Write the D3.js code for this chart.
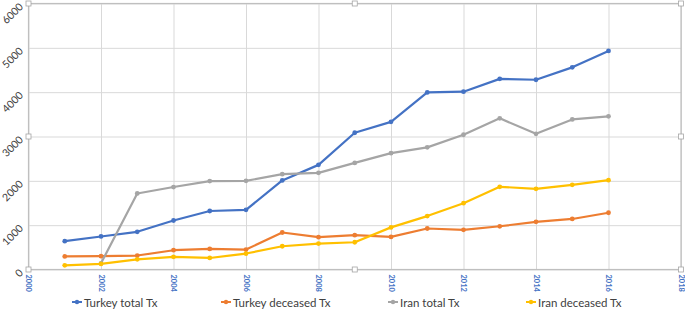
<html>
<head>
    <script src="https://d3js.org/d3.v7.min.js"></script>
    <style>
        body { margin: 0; background: #fff; }
        .grids line { stroke: #d9d9d9; }
        .grids .domain { stroke: none; }
    </style>
</head>
<body>
    <svg id="plot1" width="685" height="312"></svg>
<script>
    // data
    const years = [2001,2002,2003,2004,2005,2006,2007,2008,2009,2010,2011,2012,2013,2014,2015,2016];
    const turkeyTotal    = [640,745,850,1105,1320,1345,2010,2360,3085,3330,3995,4010,4300,4280,4560,4930];
    const turkeyDeceased = [295,300,315,435,465,450,835,730,775,735,925,895,975,1075,1140,1280];
    const iranTotal      = [null,140,1715,1860,1995,2000,2150,2180,2405,2625,2755,3040,3410,3060,3385,3455];
    const iranDeceased   = [95,125,230,285,260,360,525,585,615,950,1205,1495,1865,1820,1910,2015];
    const seriesNames = ['Turkey total Tx','Turkey deceased Tx','Iran total Tx','Iran deceased Tx'];
    const seriesColors = ['#4472C4','#ED7D31','#A5A5A5','#FFC000'];
    const yTicks = [0,1000,2000,3000,4000,5000,6000];
    const xTicks = [2000,2002,2004,2006,2008,2010,2012,2014,2016,2018];

    const margin = {left:28.5, top:3.5, right:4, bottom:42.5}
    let svg = d3.select('svg#plot1');
    let W = +svg.attr('width'), H = +svg.attr('height');

    let x = d3.scaleLinear().domain([2000,2018]).range([margin.left, W - margin.right]);
    let y = d3.scaleLinear().domain([0,6000]).range([H - margin.bottom, margin.top]);

    // gridlines
    svg.append('g')
        .attr('class','grids')
        .attr('transform',`translate(0,${margin.top})`)
        .call(d3.axisBottom(x).tickValues(xTicks).tickFormat('').tickSize(H - margin.bottom - margin.top));
    svg.append('g')
        .attr('class','grids')
        .attr('transform',`translate(${margin.left},0)`)
        .call(d3.axisLeft(y).tickValues(yTicks).tickFormat('').tickSize(-(W - margin.left - margin.right)));

    // plot frame
    svg.append('rect')
        .attr('x', margin.left).attr('y', margin.top)
        .attr('width', W - margin.left - margin.right)
        .attr('height', H - margin.top - margin.bottom)
        .attr('fill','none').attr('stroke','#bfbfbf').attr('stroke-width',1.2);

    // y labels, rotated
    svg.append('g').selectAll('text')
        .data(yTicks)
        .join('text')
        .attr('transform', d => `translate(21,${y(d)+1}) rotate(-45)`)
        .attr('text-anchor','end')
        .attr('dominant-baseline','central')
        .attr('font-family','Lato, "Liberation Sans", sans-serif')
        .attr('font-size','10.5px')
        .attr('fill','#404040')
        .text(d => d);

    // x labels, vertical
    svg.append('g').selectAll('text')
        .data(xTicks)
        .join('text')
        .attr('transform', d => `translate(${x(d)},${H - margin.bottom + 5}) rotate(90)`)
        .attr('text-anchor','start')
        .attr('dominant-baseline','central')
        .attr('font-family','Lato, "Liberation Sans", sans-serif')
        .attr('font-size','7.5px')
        .attr('font-weight','bold')
        .attr('fill','#4472C4')
        .text(d => d);

    // series
    const allSeries = [turkeyTotal, turkeyDeceased, iranTotal, iranDeceased];
    let line = d3.line()
        .defined(d => d.v != null)
        .x(d => x(d.year))
        .y(d => y(d.v));

    // draw in order so that yellow sits over gray like the original
    allSeries.forEach(function(vals, i){
        let pts = years.map((yr, j) => ({year: yr, v: vals[j]}));
        let g = svg.append('g');
        g.append('path')
            .datum(pts)
            .attr('d', line)
            .attr('fill','none')
            .attr('stroke', seriesColors[i])
            .attr('stroke-width', 2.2)
            .attr('stroke-linejoin','round');
        g.selectAll('circle')
            .data(pts.filter(d => d.v != null))
            .join('circle')
            .attr('cx', d => x(d.year))
            .attr('cy', d => y(d.v))
            .attr('r', 2.4)
            .attr('fill', seriesColors[i]);
    });

    // selection handles on the plot area
    const hx = [margin.left, (margin.left + W - margin.right)/2, W - margin.right];
    const hy = [margin.top, (margin.top + H - margin.bottom)/2, H - margin.bottom];
    let handles = [];
    hx.forEach(a => hy.forEach(b => { if (!(a === hx[1] && b === hy[1])) handles.push([a,b]); }));
    svg.append('g').selectAll('rect')
        .data(handles)
        .join('rect')
        .attr('x', d => d[0]-2.5).attr('y', d => d[1]-2.5)
        .attr('width',5).attr('height',5)
        .attr('fill','#fff').attr('stroke','#a6a6a6').attr('stroke-width',0.8);

    // legend
    const legendX = [72, 221, 388, 526];
    let legend = svg.append('g').selectAll('g')
        .data(seriesNames)
        .join('g')
        .attr('transform', (d,i) => `translate(${legendX[i]},302)`);
    legend.append('line')
        .attr('x1',0).attr('x2',10)
        .attr('stroke',(d,i) => seriesColors[i])
        .attr('stroke-width',2);
    legend.append('circle')
        .attr('cx',5).attr('r',2.2)
        .attr('fill',(d,i) => seriesColors[i]);
    legend.append('text')
        .attr('x',12)
        .attr('dominant-baseline','central')
        .attr('font-family','Lato, "Liberation Sans", sans-serif')
        .attr('font-size','11.5px')
        .attr('fill','#404040')
        .text(d => d);
</script>
</body>
</html>
